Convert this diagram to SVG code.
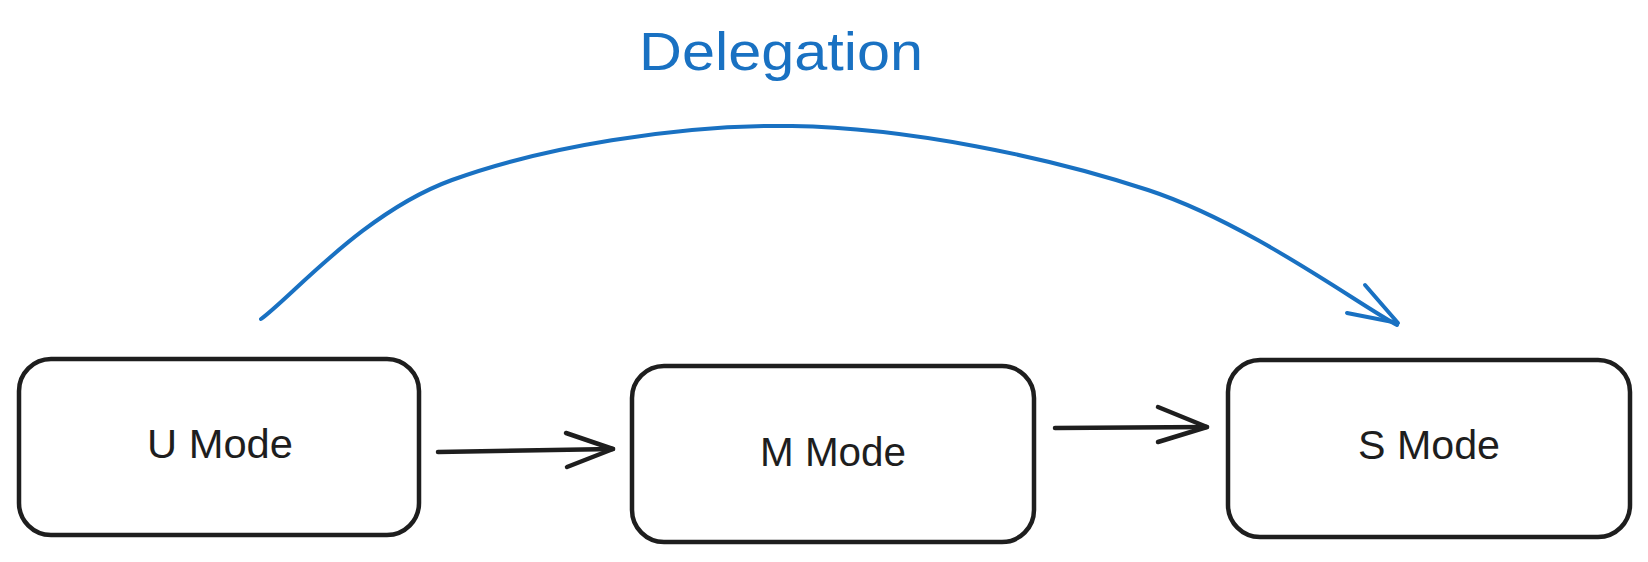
<svg xmlns="http://www.w3.org/2000/svg" width="1648" height="562" viewBox="0 0 1648 562">
<style>
.box{fill:none;stroke:#1e1e1e;stroke-width:4.5;stroke-linecap:round;stroke-linejoin:round}
.lbl{font-family:"Liberation Sans",Arial,sans-serif;font-size:40px;fill:#1e1e1e;text-anchor:middle}
.blk{fill:none;stroke:#1e1e1e;stroke-width:4.5;stroke-linecap:round;stroke-linejoin:round}
.blu{fill:none;stroke:#1971c2;stroke-width:4;stroke-linecap:round;stroke-linejoin:round}
.title{font-family:"Liberation Sans",Arial,sans-serif;font-size:54px;fill:#1971c2;text-anchor:middle}
</style>
<rect width="1648" height="562" fill="#ffffff"/>
<g id="node-u">
<rect class="box" x="19" y="359" width="400" height="176" rx="32"/>
<text class="lbl" x="220" y="458" textLength="146" lengthAdjust="spacingAndGlyphs">U Mode</text>
</g>
<g id="node-m">
<rect class="box" x="632" y="366" width="402" height="176" rx="32"/>
<text class="lbl" x="833" y="466" textLength="146" lengthAdjust="spacingAndGlyphs">M Mode</text>
</g>
<g id="node-s">
<rect class="box" x="1228" y="360" width="402" height="177" rx="32"/>
<text class="lbl" x="1429" y="459" textLength="142" lengthAdjust="spacingAndGlyphs">S Mode</text>
</g>
<g id="label-delegation">
<text class="title" x="781" y="70" textLength="284" lengthAdjust="spacingAndGlyphs">Delegation</text>
</g>
<g id="connectors">
<path class="blk" d="M438 452 L613 449"/>
<path class="blk" d="M566 433 L613 449 L567 467"/>
<path class="blk" d="M1055 428 L1207 427"/>
<path class="blk" d="M1158 407 L1207 427 L1158 442"/>
<path class="blu" d="M261 319 C292.8 295.8 363.5 212.2 452 180 C540.5 147.8 676 124.3 792 126 C908 127.7 1047.2 156.8 1148 190 C1248.8 223.2 1355.5 302.5 1397 325"/>
<path class="blu" d="M1365 285 L1398 323 L1347 313"/>
</g>
</svg>
